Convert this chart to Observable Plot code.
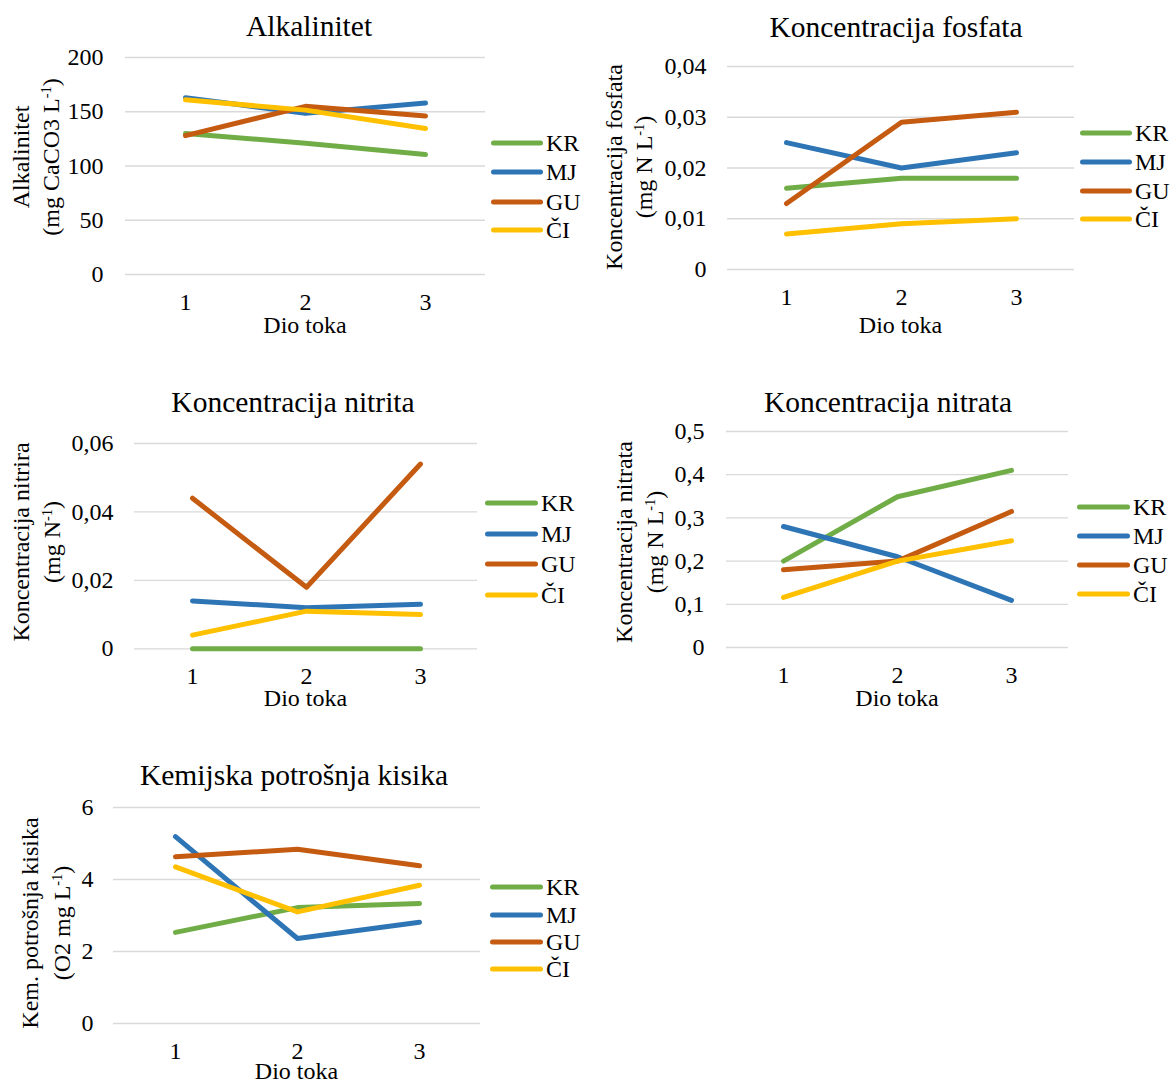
<!DOCTYPE html>
<html>
<head>
<meta charset="utf-8">
<script src="https://cdn.jsdelivr.net/npm/d3@7"></script>
<script src="https://cdn.jsdelivr.net/npm/@observablehq/plot@0.6"></script>
<style>
  html, body { margin: 0; padding: 0; background: #fff; }
  #root { position: relative; width: 1172px; height: 1082px; overflow: hidden; font-family: "Liberation Serif", "Times New Roman", serif; color: #000; }
  .abs { position: absolute; white-space: nowrap; }
  .title { font-size: 29.5px; transform: translate(-50%, -50%); }
  .lbl { font-size: 24px; transform: translate(-50%, -50%); }
  .ylbl { font-size: 24px; transform: translate(-50%, -50%) rotate(-90deg); }
  .legline { height: 5px; border-radius: 3px; transform: translateY(-50%); }
  .legtxt { font-size: 24px; transform: translateY(-50%); }
  sup { font-size: 0.6em; vertical-align: 0.55em; line-height: 0; }
  svg { position: absolute; overflow: visible; }
  svg text { font-family: "Liberation Serif", "Times New Roman", serif !important; font-size: 24px !important; fill: #000; }
</style>
</head>
<body>
<div id="root"></div>
<script>
// ---- data ----
const parts = [1, 2, 3];
const series = ["KR", "MJ", "GU", "ČI"];
const colors = ["#70AD47", "#2E75B6", "#C55A11", "#FFC000"];
const xTitle = "Dio toka";

const alkKR = [130, 121, 110.5];
const alkMJ = [163, 148.5, 158];
const alkGU = [128, 155, 146];
const alkCI = [161, 151.5, 134.5];
const alkTicks = [0, 50, 100, 150, 200];

const fosKR = [0.016, 0.018, 0.018];
const fosMJ = [0.025, 0.020, 0.023];
const fosGU = [0.013, 0.029, 0.031];
const fosCI = [0.007, 0.009, 0.010];
const fosTicks = [0, 0.01, 0.02, 0.03, 0.04];

const nitKR = [0, 0, 0];
const nitMJ = [0.014, 0.012, 0.013];
const nitGU = [0.044, 0.018, 0.054];
const nitCI = [0.004, 0.011, 0.010];
const nitTicks = [0, 0.02, 0.04, 0.06];

const natKR = [0.2, 0.349, 0.41];
const natMJ = [0.28, 0.21, 0.109];
const natGU = [0.18, 0.2, 0.315];
const natCI = [0.116, 0.2, 0.247];
const natTicks = [0, 0.1, 0.2, 0.3, 0.4, 0.5];

const kpkKR = [2.53, 3.22, 3.33];
const kpkMJ = [5.19, 2.36, 2.81];
const kpkGU = [4.63, 4.84, 4.38];
const kpkCI = [4.35, 3.10, 3.84];
const kpkTicks = [0, 2, 4, 6];

// ---- panels ----
const panels = [
  { title: "Alkalinitet", yTitle: ["Alkalinitet", "(mg CaCO3 L<sup>-1</sup>)"],
    values: [alkKR, alkMJ, alkGU, alkCI], ticks: alkTicks,
    frame: {l: 125, r: 485, t: 57, b: 274}, tickRight: 103, titlePos: [309, 26],
    yTitleX: [21, 51], yTitleY: 157, xTitleY: 325,
    leg: {lineX: 491, textX: 546, rows: [143, 172, 202, 230]} },
  { title: "Koncentracija fosfata", yTitle: ["Koncentracija fosfata", "(mg N L<sup>-1</sup>)"],
    values: [fosKR, fosMJ, fosGU, fosCI], ticks: fosTicks,
    frame: {l: 727, r: 1074, t: 66, b: 269}, tickRight: 706, titlePos: [896, 27],
    yTitleX: [614, 644], yTitleY: 167, xTitleY: 325,
    leg: {lineX: 1080, textX: 1135, rows: [133, 162, 191, 219]} },
  { title: "Koncentracija nitrita", yTitle: ["Koncentracija nitrira", "(mg N<sup>-1</sup>)"],
    values: [nitKR, nitMJ, nitGU, nitCI], ticks: nitTicks,
    frame: {l: 134, r: 477, t: 442.7, b: 648}, tickRight: 113, titlePos: [293, 402],
    yTitleX: [21, 52], yTitleY: 542, xTitleY: 698,
    leg: {lineX: 485, textX: 541, rows: [503, 534, 564, 595]} },
  { title: "Koncentracija nitrata", yTitle: ["Koncentracija nitrata", "(mg N L<sup>-1</sup>)"],
    values: [natKR, natMJ, natGU, natCI], ticks: natTicks,
    frame: {l: 726, r: 1068, t: 430.7, b: 646.7}, tickRight: 704, titlePos: [888, 402],
    yTitleX: [624, 655], yTitleY: 542, xTitleY: 698,
    leg: {lineX: 1077, textX: 1133, rows: [507, 536, 565, 594]} },
  { title: "Kemijska potrošnja kisika", yTitle: ["Kem. potrošnja kisika", "(O2 mg L<sup>-1</sup>)"],
    values: [kpkKR, kpkMJ, kpkGU, kpkCI], ticks: kpkTicks,
    frame: {l: 113, r: 480, t: 806.7, b: 1022.7}, tickRight: 93, titlePos: [294, 775],
    yTitleX: [30, 62], yTitleY: 923, xTitleY: 1071,
    leg: {lineX: 490, textX: 546, rows: [887, 915, 942, 969]} }
];

const root = document.getElementById("root");
function addDiv(cls, html, x, y, extra) {
  const d = document.createElement("div");
  d.className = "abs " + cls;
  d.innerHTML = html;
  d.style.left = x + "px";
  d.style.top = y + "px";
  if (extra) Object.assign(d.style, extra);
  root.appendChild(d);
  return d;
}
const fmt = d => String(d).replace(".", ",");
const SERIF = '"Liberation Serif", "Times New Roman", serif';

for (const p of panels) {
  const data = [];
  series.forEach((s, i) => parts.forEach((x, j) => data.push({series: s, part: x, value: p.values[i][j]})));
  const mL = 80, mT = 15, mB = 50, mR = 0;
  const fw = p.frame.r - p.frame.l, fh = p.frame.b - p.frame.t;
  const svg = Plot.plot({
    width: mL + fw + mR,
    height: mT + fh + mB,
    marginLeft: mL, marginRight: mR, marginTop: mT, marginBottom: mB,
    style: {fontSize: "24px", color: "#000", background: "transparent"},
    x: {type: "point", domain: parts, padding: 0.5, label: null, tickSize: 0, tickPadding: 18},
    y: {domain: [0, d3.max(p.ticks)], ticks: p.ticks, tickFormat: fmt, label: null, tickSize: 0, tickPadding: p.frame.l - p.tickRight},
    color: {domain: series, range: colors},
    marks: [
      Plot.gridY(p.ticks, {stroke: "#D9D9D9", strokeOpacity: 1, strokeWidth: 1.3}),
      Plot.line(data, {x: "part", y: "value", z: "series", stroke: "series", strokeWidth: 5, strokeLinecap: "round", strokeLinejoin: "round"})
    ]
  });
  svg.setAttribute("font-family", SERIF);
  svg.setAttribute("font-size", "24");
  svg.querySelectorAll("g, text").forEach(el => {
    if (el.hasAttribute("font-family")) el.setAttribute("font-family", SERIF);
    if (el.hasAttribute("font-size")) el.setAttribute("font-size", "24");
  });
  svg.querySelectorAll("text").forEach(t => {
    t.style.setProperty("font-family", SERIF, "important");
    t.style.setProperty("font-size", "24px", "important");
    t.setAttribute("font-variant", "normal");
  });
  svg.style.left = (p.frame.l - mL) + "px";
  svg.style.top = (p.frame.t - mT) + "px";
  root.appendChild(svg);

  addDiv("title", p.title, p.titlePos[0], p.titlePos[1]);
  p.yTitle.forEach((t, i) => addDiv("ylbl", t, p.yTitleX[i], p.yTitleY));
  addDiv("lbl", xTitle, (p.frame.l + p.frame.r) / 2, p.xTitleY);
  series.forEach((s, i) => {
    addDiv("legline", "", p.leg.lineX, p.leg.rows[i], {width: (p.leg.textX - p.leg.lineX - 3) + "px", background: colors[i]});
    addDiv("legtxt", s, p.leg.textX, p.leg.rows[i]);
  });
}
</script>
</body>
</html>
